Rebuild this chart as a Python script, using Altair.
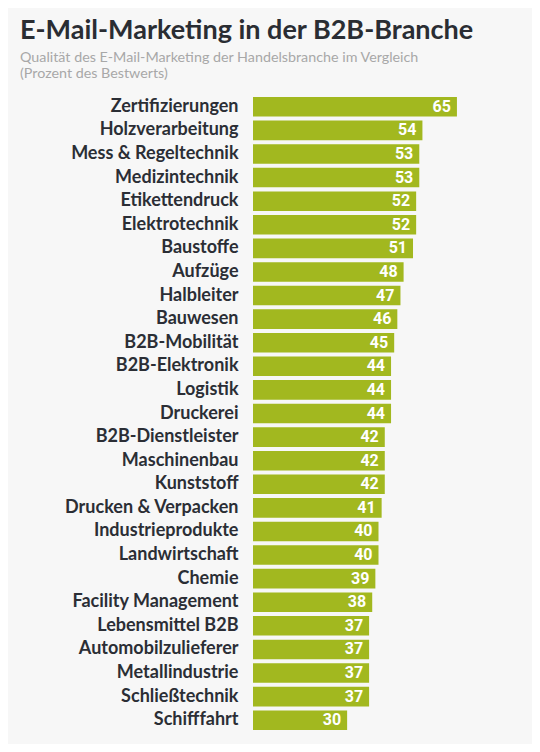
import altair as alt
import pandas as pd

categories = [
    "Zertifizierungen", "Holzverarbeitung", "Mess & Regeltechnik", "Medizintechnik",
    "Etikettendruck", "Elektrotechnik", "Baustoffe", "Aufzüge", "Halbleiter",
    "Bauwesen", "B2B-Mobilität", "B2B-Elektronik", "Logistik", "Druckerei",
    "B2B-Dienstleister", "Maschinenbau", "Kunststoff", "Drucken & Verpacken",
    "Industrieprodukte", "Landwirtschaft", "Chemie", "Facility Management",
    "Lebensmittel B2B", "Automobilzulieferer", "Metallindustrie", "Schließtechnik",
    "Schifffahrt",
]
values = [65, 54, 53, 53, 52, 52, 51, 48, 47, 46, 45, 44, 44, 44, 42, 42, 42, 41,
          40, 40, 39, 38, 37, 37, 37, 37, 30]

title_text = "E-Mail-Marketing in der B2B-Branche"
subtitle_lines = [
    "Qualität des E-Mail-Marketing der Handelsbranche im Vergleich",
    "(Prozent des Bestwerts)",
]

df = pd.DataFrame({"Branche": categories, "Wert": values})

y_enc = alt.Y(
    "Branche:N",
    sort=categories,
    title=None,
    scale=alt.Scale(paddingInner=0.17, paddingOuter=0.085),
    axis=alt.Axis(
        domain=False, ticks=False, labelFont="Lato", labelFontWeight="bold",
        labelFontSize=18, labelColor="#2b2e35", labelPadding=15, labelLimit=400,
    ),
)
x_enc = alt.X("Wert:Q", title=None, scale=alt.Scale(domain=[0, 80], nice=False),
              axis=None)

bars = alt.Chart(df).mark_bar(color="#a2b81f").encode(x=x_enc, y=y_enc)
labels = alt.Chart(df).mark_text(
    align="right", baseline="middle", dx=-6, color="white",
    font="Roboto", fontWeight="bold", fontSize=16,
).encode(x=x_enc, y=y_enc, text="Wert:Q")

chart = alt.layer(bars, labels).properties(
    width=251,
    height=637,
    background="#f7f7f7",
    autosize=alt.AutoSizeParams(type="none"),
    padding={"left": 245, "top": 87, "right": 28, "bottom": 12},
    title=alt.TitleParams(
        text=title_text,
        subtitle=subtitle_lines,
        anchor="start",
        frame="group",
        dx=-233,
        font="Lato",
        fontSize=27,
        fontWeight="bold",
        color="#2a2d33",
        subtitleFont="Lato",
        subtitleFontSize=14.3,
        subtitleColor="#a8a8a8",
        subtitleLineHeight=16,
        subtitlePadding=6,
        offset=13,
    ),
).configure_view(stroke=None)

chart.save("out.html", embed_options={"renderer": "svg", "actions": False})
